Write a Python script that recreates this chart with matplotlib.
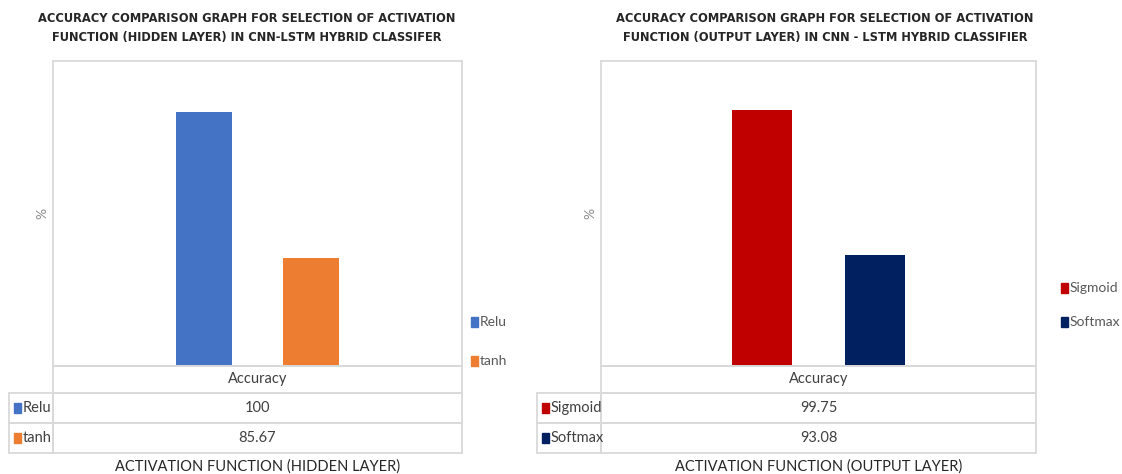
import matplotlib.pyplot as plt
from matplotlib.patches import Rectangle

# activation functions compared in the hidden layer
hidden_names = ["Relu", "tanh"]
hidden_acc = [100, 85.67]
hidden_colors = ["#4472C4", "#ED7D31"]

# activation functions compared in the output layer
output_names = ["Sigmoid", "Softmax"]
output_acc = [99.75, 93.08]
output_colors = ["#C00000", "#002060"]

category = "Accuracy"

W, H = 1122, 474
NARROW = ["Lato", "DejaVu Sans"]
GRID = "#d9d9d9"

fig = plt.figure(figsize=(W / 100, H / 100), dpi=100)


def fx(x):
    return x / W


def fy(y):
    return 1 - y / H


def box(x0, y0, x1, y1):
    fig.patches.append(Rectangle((fx(x0), fy(y1)), fx(x1) - fx(x0), fy(y0) - fy(y1),
                                 transform=fig.transFigure, fill=False,
                                 edgecolor=GRID, linewidth=1.3))


def panel(names, values, colors, ylim, title, xlabel,
          left, right, lab_left, title_x, legend_x, legend_y):
    top, bottom = 61, 366
    ax = fig.add_axes([fx(left), fy(bottom), fx(right) - fx(left), fy(top) - fy(bottom)])
    offsets = [-0.13, 0.13]
    ax.bar(offsets, values, width=0.137, color=colors, bottom=0)
    ax.set_xlim(-0.5, 0.5)
    ax.set_ylim(*ylim)
    ax.set_xticks([])
    ax.set_yticks([])
    for s in ax.spines.values():
        s.set_color(GRID)
        s.set_linewidth(1.3)

    fig.text(fx(left - 11), fy(213), "%", rotation=90, ha="center", va="center",
             fontsize=10, color="#8c8c8c", family=NARROW)

    # title, two lines
    for i, line in enumerate(title):
        fig.text(fx(title_x), fy(18 + 19 * i), line, ha="center", va="center",
                 fontsize=8.3, fontweight="bold", color="#262626")

    # data table under the plot
    rows = [366, 393, 423, 453]
    box(left, rows[0], right, rows[1])
    fig.text(fx((left + right) / 2), fy((rows[0] + rows[1]) / 2), category,
             ha="center", va="center", fontsize=10.5, color="#404040", family=NARROW)
    for i, (n, v, c) in enumerate(zip(names, values, colors)):
        y0, y1 = rows[i + 1], rows[i + 2]
        ym = (y0 + y1) / 2
        box(lab_left, y0, left, y1)
        box(left, y0, right, y1)
        fig.patches.append(Rectangle((fx(lab_left + 5), fy(ym + 5)), fx(7), 10 / H,
                                     transform=fig.transFigure, color=c))
        fig.text(fx(lab_left + 14), fy(ym), n, ha="left", va="center",
                 fontsize=10.5, color="#404040", family=NARROW)
        fig.text(fx((left + right) / 2), fy(ym), f"{v:g}", ha="center", va="center",
                 fontsize=10.5, color="#404040", family=NARROW)

    fig.text(fx((left + right) / 2), fy(467), xlabel, ha="center", va="center",
             fontsize=10.5, color="#262626", family=NARROW)

    # legend on the right
    for n, c, y in zip(names, colors, legend_y):
        fig.patches.append(Rectangle((fx(legend_x), fy(y + 5)), fx(7), 10 / H,
                                     transform=fig.transFigure, color=c))
        fig.text(fx(legend_x + 9), fy(y), n, ha="left", va="center",
                 fontsize=10, color="#595959", family=NARROW)


panel(hidden_names, hidden_acc, hidden_colors, (75, 105),
      ["ACCURACY COMPARISON GRAPH FOR SELECTION OF ACTIVATION",
       "FUNCTION (HIDDEN LAYER) IN CNN-LSTM HYBRID CLASSIFER"],
      "ACTIVATION FUNCTION (HIDDEN LAYER)",
      left=53, right=462, lab_left=9, title_x=247,
      legend_x=471, legend_y=[322, 361])

panel(output_names, output_acc, output_colors, (88, 102),
      ["ACCURACY COMPARISON GRAPH FOR SELECTION OF ACTIVATION",
       "FUNCTION (OUTPUT LAYER) IN CNN - LSTM HYBRID CLASSIFIER"],
      "ACTIVATION FUNCTION (OUTPUT LAYER)",
      left=601, right=1036, lab_left=537, title_x=825,
      legend_x=1061, legend_y=[288, 322])

fig.savefig("out.png", dpi=100)
